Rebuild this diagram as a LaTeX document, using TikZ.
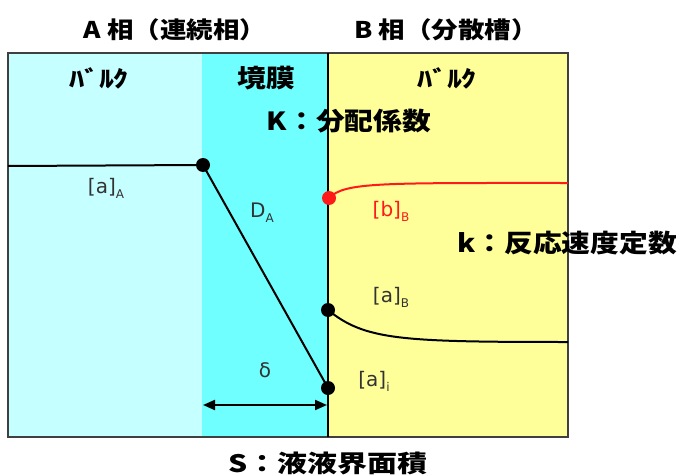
\documentclass[tikz,border=0pt]{standalone}
\usepackage{fontspec}
\usepackage{graphicx}
\newfontfamily\jp{Noto Sans CJK JP}
\newfontfamily\lbl{DejaVu Sans}
\usetikzlibrary{arrows.meta}
\definecolor{bulkA}{HTML}{C6FFFF}
\definecolor{film}{HTML}{70FFFF}
\definecolor{bulkB}{HTML}{FFFF99}
\definecolor{redc}{HTML}{FF1A1A}
\newcommand{\wide}[1]{\scalebox{1.15}[1]{#1}}
\newcommand{\lsub}[1]{\raisebox{-0.45ex}{\fontsize{12}{12}\selectfont #1}}
\tikzset{
  head/.style={font=\jp\bfseries\fontsize{23}{25}\selectfont, inner sep=0pt},
  lab/.style={font=\lbl\fontsize{20}{22}\selectfont, inner sep=0pt, text=black!80},
  dot/.style={circle, fill=black, minimum size=14pt, inner sep=0pt},
  curve/.style={line width=2pt},
}
\begin{document}
\begin{tikzpicture}[x=1pt,y=-1pt]
\useasboundingbox (0,0) rectangle (677,476);
% regions
\fill[bulkA] (8,53) rectangle (202,437);
\fill[film] (202,53) rectangle (328,437);
\fill[bulkB] (328,53) rectangle (568,437);
\draw[line width=1.5pt, black!75] (8,53) rectangle (568,437);
\draw[line width=1.5pt] (328,53) -- (328,437);
% headings
\node[head] (hA) at (175,30) {\wide{A 相（連続相）}};
\node[head] (hB) at (446,30) {\wide{B 相（分散槽）}};
\node[head] (bk1) at (99,78) {\scalebox{1.3}[1]{ﾊﾞﾙｸ}};
\node[head, font=\jp\bfseries\fontsize{25}{27}\selectfont] (film) at (266,78) {\wide{境膜}};
\node[head] (bk2) at (447,78) {\scalebox{1.3}[1]{ﾊﾞﾙｸ}};
\node[head, font=\jp\bfseries\fontsize{25}{27}\selectfont] (K) at (349,121) {\wide{K：分配係数}};
\node[head, anchor=east, font=\jp\bfseries\fontsize{25}{27}\selectfont] (k) at (677,243) {\wide{k：反応速度定数}};
\node[head, font=\jp\bfseries\fontsize{24}{26}\selectfont] (S) at (328,463) {\scalebox{1.25}[1]{S：液液界面積}};
% points
\node[dot] (p1) at (203,165) {};
\node[dot] (p2) at (328,388) {};
\node[dot, fill=redc] (p3) at (329,198) {};
\node[dot] (p4) at (328,310) {};
\coordinate (lA) at (8,166);
\coordinate (eR) at (568,183);
\coordinate (eB) at (568,342);
\draw[curve] (lA) -- (p1.center);
\draw[curve] (p1.center) -- (p2.center);
\draw[curve, redc] (p3.center) .. controls (345,182) and (380,183) .. (eR);
\draw[curve] (p4.center) .. controls (365,340) and (400,342) .. (eB);
% delta arrow
\coordinate (d1) at (203,405);
\coordinate (d2) at (327,405);
\draw[line width=2pt, {Triangle[length=12pt,width=10pt]}-{Triangle[length=12pt,width=10pt]}] (d1) -- (d2);
% labels
\node[lab] (aA) at (106,188) {[a]\lsub{A}};
\node[lab] (DA) at (262,213) {D\lsub{A}};
\node[lab, text=redc] (bB) at (391,211) {[b]\lsub{B}};
\node[lab] (aB) at (391,297) {[a]\lsub{B}};
\node[lab] (del) at (265,370) {δ};
\node[lab] (ai) at (374,381) {[a]\lsub{i}};
\end{tikzpicture}
\end{document}
